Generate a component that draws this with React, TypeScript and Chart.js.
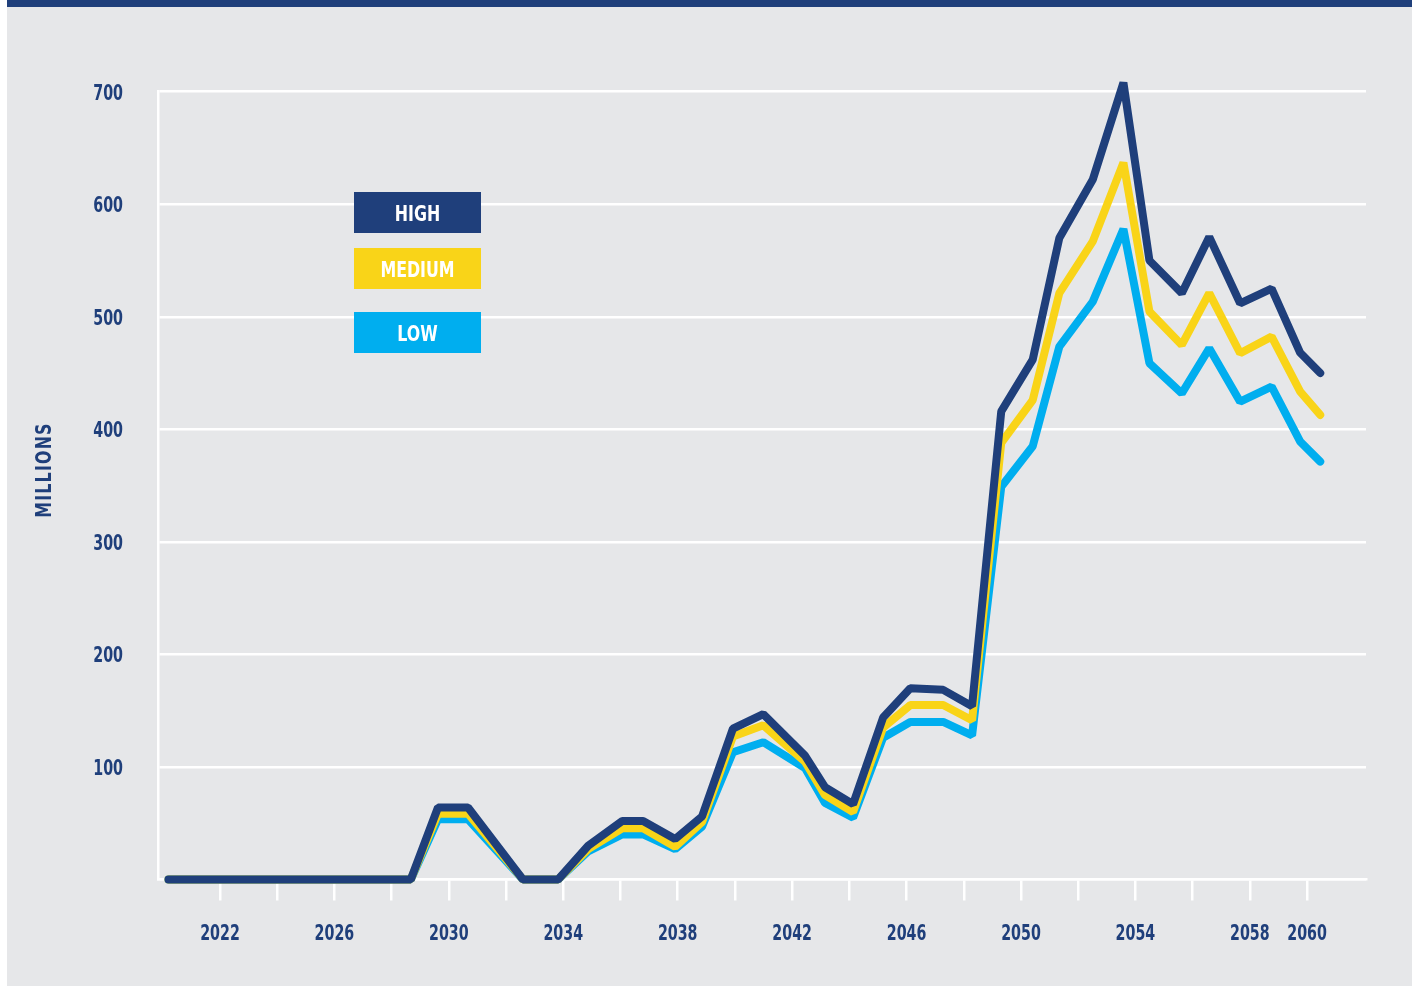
import React, { useEffect, useRef } from 'react';
import { Chart, registerables } from 'chart.js';

Chart.register(...registerables);

// ---- data ----
const yearPositions = [
  2020.2, 2028.67, 2029.62, 2030.67, 2032.59, 2033.82, 2034.87, 2036.06, 2036.79, 2037.91,
  2038.85, 2039.93, 2040.99, 2042.45, 2043.15, 2044.13, 2045.18, 2046.13, 2047.28, 2048.29,
  2049.31, 2050.41, 2051.34, 2052.51, 2053.58, 2054.49, 2055.62, 2056.58, 2057.66, 2058.76,
  2059.76, 2060.46,
];
const highValues = [
  0, 0, 64, 64, 0, 0, 30, 52, 52, 36,
  56, 134, 147, 110, 82, 67, 144, 170, 168.5, 154,
  416, 462, 570, 622, 708, 550, 521, 571, 512, 525,
  468, 450,
];
const mediumValues = [
  0, 0, 58.5, 58.5, 0, 0, 27, 45.5, 45.5, 29,
  51, 127, 137, 104.7, 75, 60, 135, 155, 155, 141.5,
  388, 426, 521, 567, 637, 504.6, 475, 521, 467.6, 482.4,
  433.5, 412.8,
];
const lowValues = [
  0, 0, 53.5, 53.5, 0, 0, 25, 40, 40, 27,
  47, 113, 122, 99, 68, 55, 126, 140, 140, 128,
  349, 385, 473.5, 513.5, 578, 458.7, 432, 472, 424.6, 438,
  389, 371.3,
];
const seriesLabels = ['HIGH', 'MEDIUM', 'LOW'];
const xTickYears = [2022, 2024, 2026, 2028, 2030, 2032, 2034, 2036, 2038, 2040, 2042, 2044, 2046, 2048, 2050, 2052, 2054, 2056, 2058, 2060];
const xLabeledYears = [2022, 2026, 2030, 2034, 2038, 2042, 2046, 2050, 2054, 2058, 2060];
const yTickValues = [0, 100, 200, 300, 400, 500, 600, 700];
const yAxisTitle = 'MILLIONS';

// ---- styles ----
const NAVY = '#1f3f7b';
const YELLOW = '#f9d418';
const CYAN = '#00aeef';
const BG = '#e6e7e9';
const FONT_FAMILY = "'Liberation Sans Narrow', 'DejaVu Sans Condensed', 'Liberation Sans', sans-serif";
const FONT = `bold 22px ${FONT_FAMILY}`;
const DIGIT_SQUEEZE = 0.72;
const WORD_SQUEEZE = 0.8;
const W = 1405;
const H = 986;

const legendBoxes = [
  { x: 347, y: 192, w: 127, h: 41 },
  { x: 347, y: 248, w: 127, h: 41 },
  { x: 347, y: 312, w: 127, h: 41 },
];

function squeezedText(
  ctx: CanvasRenderingContext2D,
  text: string,
  x: number,
  y: number,
  align: CanvasTextAlign,
  sx: number,
) {
  ctx.save();
  ctx.translate(x, y);
  ctx.scale(sx, 1);
  ctx.textAlign = align;
  ctx.textBaseline = 'alphabetic';
  ctx.fillText(text, 0, 0);
  ctx.restore();
}

const overlayPlugin = {
  id: 'overlay',
  afterDraw(chart: any) {
    const ctx = chart.ctx as CanvasRenderingContext2D;
    ctx.save();
    ctx.font = FONT;

    // x-axis tick labels (from the scale's ticks)
    const xs = chart.scales.x;
    ctx.fillStyle = NAVY;
    xs.ticks.forEach((t: any) => {
      if (!xLabeledYears.includes(t.value)) return;
      squeezedText(ctx, String(t.value), xs.getPixelForValue(t.value), 939.5, 'center', DIGIT_SQUEEZE);
    });

    // y-axis tick labels
    const ys = chart.scales.y;
    ys.ticks.forEach((t: any) => {
      if (t.value === 0) return;
      squeezedText(ctx, String(t.value), ys.left + ys.width - 35, ys.getPixelForValue(t.value) + 8, 'right', DIGIT_SQUEEZE);
    });

    // legend boxes
    chart.data.datasets.forEach((ds: any, i: number) => {
      const b = legendBoxes[i];
      if (!b) return;
      ctx.fillStyle = ds.borderColor;
      ctx.fillRect(b.x, b.y, b.w, b.h);
      ctx.fillStyle = '#ffffff';
      squeezedText(ctx, ds.label, b.x + b.w / 2, b.y + b.h / 2 + 8, 'center', WORD_SQUEEZE);
    });

    // vertical axis title
    ctx.translate(36, 470);
    ctx.rotate(-Math.PI / 2);
    ctx.scale(WORD_SQUEEZE, 1);
    ctx.fillStyle = NAVY;
    (ctx as any).letterSpacing = '1.5px';
    ctx.textAlign = 'center';
    ctx.textBaseline = 'alphabetic';
    ctx.fillText(yAxisTitle, 0, 8);
    ctx.restore();
  },
};

export default function App() {
  const canvasRef = useRef<HTMLCanvasElement | null>(null);

  useEffect(() => {
    if (!canvasRef.current) return;
    const font = { family: FONT_FAMILY, size: 22, weight: 'bold' as const };
    const mk = (label: string, values: number[], color: string) => ({
      label,
      data: values.map((v, i) => ({ x: yearPositions[i], y: v })),
      borderColor: color,
      backgroundColor: color,
      borderWidth: 8,
      borderJoinStyle: 'bevel' as const,
      borderCapStyle: 'round' as const,
      pointRadius: 0,
      tension: 0,
      fill: false,
      clip: false as any,
    });
    const chart = new Chart(canvasRef.current, {
      type: 'line',
      data: {
        datasets: [
          mk(seriesLabels[0], highValues, NAVY),
          mk(seriesLabels[1], mediumValues, YELLOW),
          mk(seriesLabels[2], lowValues, CYAN),
        ],
      },
      options: {
        responsive: false,
        animation: false,
        devicePixelRatio: 1,
        layout: { padding: { top: 91.7, right: 46, left: 0, bottom: 0 } },
        plugins: { legend: { display: false }, tooltip: { enabled: false }, title: { display: false } },
        scales: {
          x: {
            type: 'linear',
            min: 2019.833,
            max: 2062.06,
            afterBuildTicks: (s: any) => {
              s.ticks = xTickYears.map((v) => ({ value: v }));
            },
            afterFit: (s: any) => {
              s.height = 106.5;
            },
            grid: {
              display: true,
              drawOnChartArea: false,
              drawTicks: true,
              tickLength: 21,
              tickColor: '#ffffff',
              tickWidth: 2.5,
              color: '#ffffff',
              lineWidth: 2.5,
            },
            border: { display: true, color: '#ffffff', width: 2.5 },
            ticks: {
              display: false,
              autoSkip: false,
              maxRotation: 0,
              minRotation: 0,
              color: NAVY,
              font,
              callback: (v: any) => (xLabeledYears.includes(Number(v)) ? String(v) : ''),
            },
          },
          y: {
            min: 0,
            max: 700,
            afterBuildTicks: (s: any) => {
              s.ticks = yTickValues.map((v) => ({ value: v }));
            },
            afterFit: (s: any) => {
              s.width = 151;
            },
            grid: { color: '#ffffff', lineWidth: 2.5, drawTicks: false },
            border: { display: true, color: '#ffffff', width: 2.5 },
            ticks: {
              display: false,
              color: NAVY,
              font,
              callback: (v: any) => (Number(v) === 0 ? '' : String(v)),
            },
          },
        },
      },
      plugins: [overlayPlugin],
    } as any);
    return () => chart.destroy();
  }, []);

  return (
    <div style={{ position: 'fixed', left: 7, top: 0, width: W, height: H, background: BG, overflow: 'hidden' }}>
      <div style={{ position: 'absolute', left: 0, top: 0, width: W, height: 7, background: NAVY }} />
      <canvas ref={canvasRef} width={W} height={H} style={{ display: 'block', width: W, height: H }} />
    </div>
  );
}
